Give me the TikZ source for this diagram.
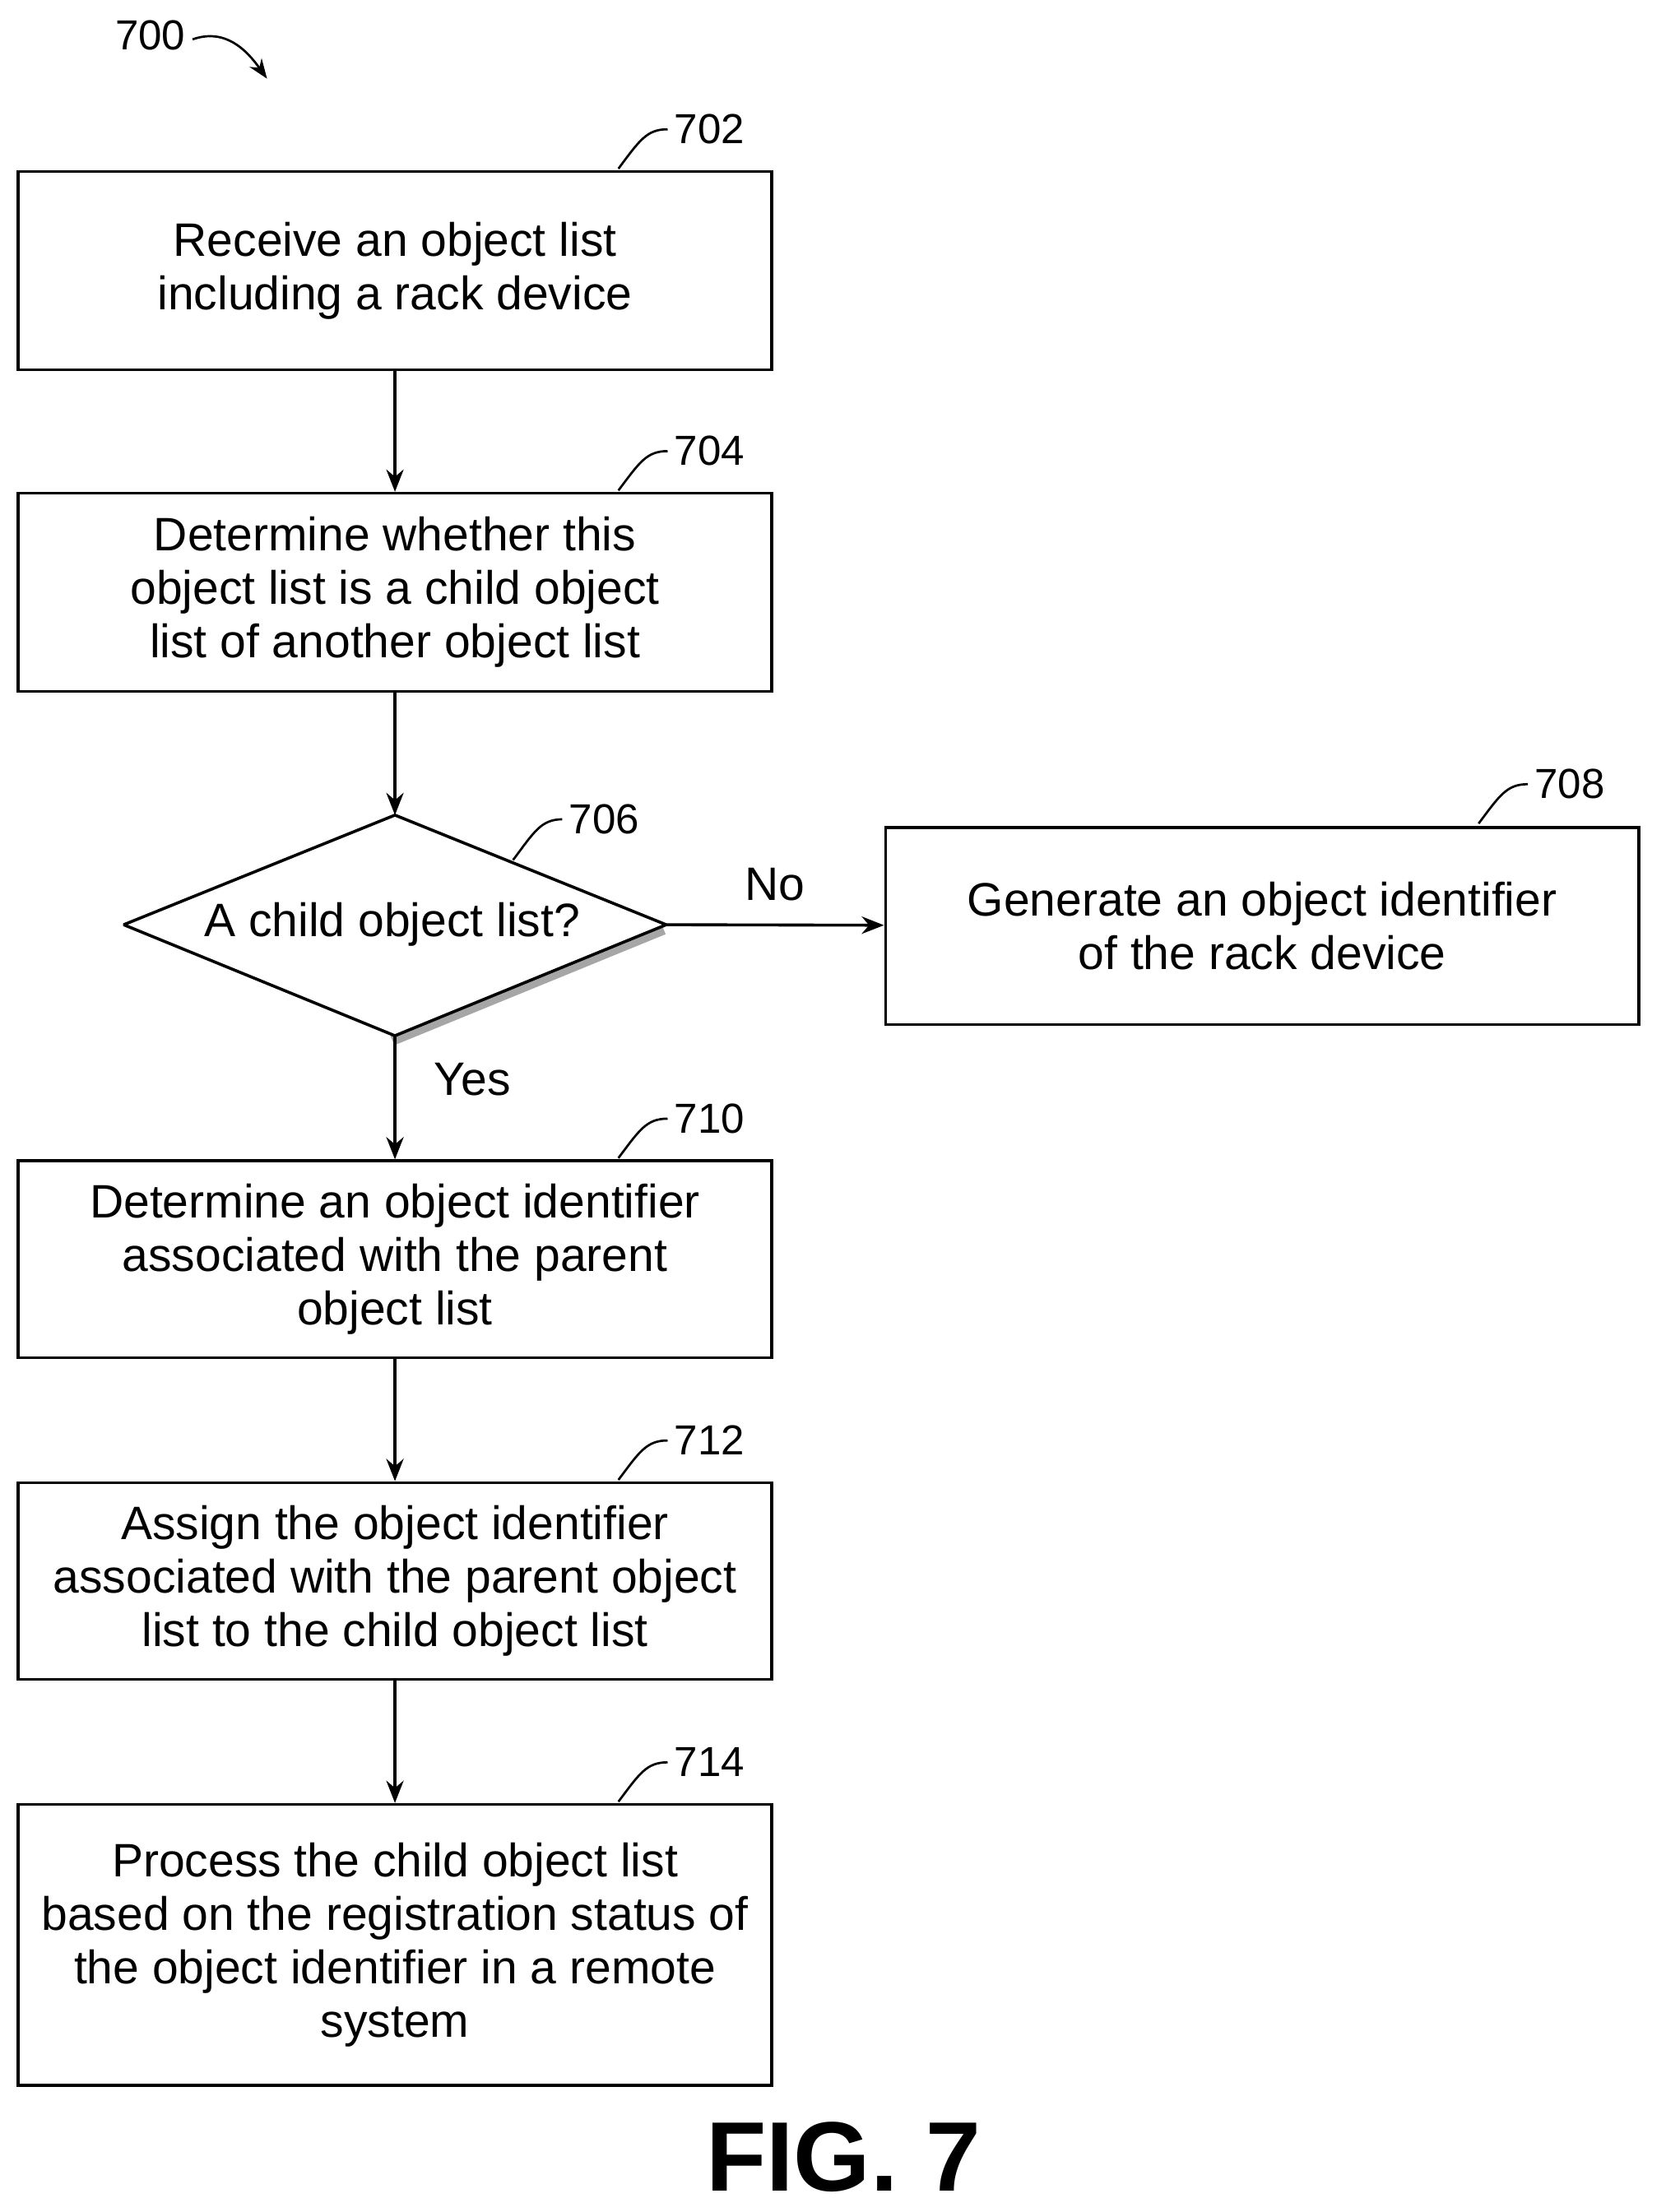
\documentclass[tikz,border=0pt]{standalone}
\usepackage{fontspec}
\setmainfont{Liberation Sans}
\usetikzlibrary{arrows.meta,positioning}
\tikzset{
  box/.style={draw, line width=1.2pt, align=center, inner sep=0pt,
    font=\fontsize{19}{21.6}\selectfont},
  flow/.style={-{Stealth[length=9pt,width=7pt]}, line width=1.2pt},
  refnum/.style={font=\fontsize{17}{17}\selectfont},
  leader/.style={line width=0.9pt}
}
\begin{document}
\begin{tikzpicture}[x=0.02cm,y=-0.02cm]
\useasboundingbox (0,0) rectangle (1185,1574);
% boxes
\node[box, minimum width=536*0.02cm, minimum height=141*0.02cm] (b702) at (281,192.5) {Receive an object list\\including a rack device};
\node[box, minimum width=536*0.02cm, minimum height=141*0.02cm] (b704) at (281,421.5) {Determine whether this\\object list is a child object\\list of another object list};
\node[box, minimum width=536*0.02cm, minimum height=140*0.02cm] (b708) at (898,659) {Generate an object identifier\\of the rack device};
\node[box, minimum width=536*0.02cm, minimum height=140*0.02cm] (b710) at (281,896) {Determine an object identifier\\associated with the parent\\object list};
\node[box, minimum width=536*0.02cm, minimum height=140*0.02cm] (b712) at (281,1125) {Assign the object identifier\\associated with the parent object\\list to the child object list};
\node[box, minimum width=536*0.02cm, minimum height=200*0.02cm] (b714) at (281,1384) {Process the child object list\\based on the registration status of\\the object identifier in a remote\\system};
% decision
\coordinate (dt) at (281,580);
\coordinate (dl) at (88,658);
\coordinate (dr) at (474,658);
\coordinate (db) at (281,737);
\draw[line width=4pt, gray!70] ([xshift=-1pt,yshift=-2pt]dr) -- ([xshift=-1pt,yshift=-2pt]db);
\draw[line width=1.2pt, line join=bevel] (dt) -- (dr) -- (db) -- (dl) -- cycle;
\node[font=\fontsize{19}{21.6}\selectfont] (d706) at (279,658) {A child object list?};
% connectors
\draw[flow] (b702) -- (b704);
\draw[flow] (b704) -- (dt);
\draw[flow] (dr) -- (b708) node[midway, above=6pt, font=\fontsize{19}{21.6}\selectfont] {No};
\draw[flow] (db) -- (b710) node[pos=0.35, right=12pt, font=\fontsize{19}{21.6}\selectfont] {Yes};
\draw[flow] (b710) -- (b712);
\draw[flow] (b712) -- (b714);
% reference numbers
\foreach \n/\x/\y in {702/440/120, 704/440/349, 710/440/824, 712/440/1053, 714/440/1282}
  \draw[leader] (\x,\y) .. controls (455,\y-20) and (460,\y-28) .. (475,\y-28) node[refnum, right=-1pt] {\n};
\draw[leader] (1052,586) .. controls (1067,566) and (1072,558) .. (1087,558) node[refnum, right=-1pt] {708};
\draw[leader] (365,612) .. controls (380,592) and (385,583) .. (400,583) node[refnum, right=-1pt] {706};
\node[refnum] (n700) at (107,25) {700};
\draw[leader, -{Stealth[length=8pt]}] (137,28) .. controls (160,20) and (175,35) .. (190,56);
\node[font=\fontsize{40}{40}\selectfont\bfseries] (fig) at (600,1535) {FIG. 7};
\end{tikzpicture}
\end{document}
